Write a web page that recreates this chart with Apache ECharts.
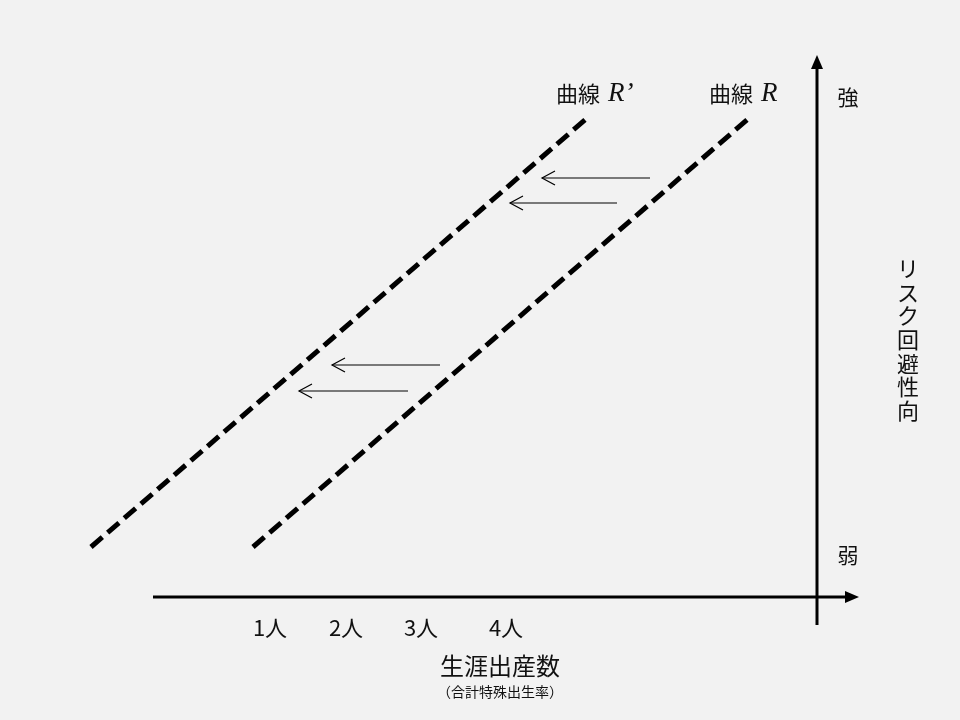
<!DOCTYPE html>
<html>
<head>
<meta charset="utf-8">
<script src="https://cdn.jsdelivr.net/npm/echarts@6/dist/echarts.min.js"></script>
<style>
  html, body { margin: 0; padding: 0; background: #f2f2f2; }
  #chart { width: 960px; height: 720px; }
</style>
</head>
<body>
<div id="chart"></div>
<script>
// diagram space: x 0..960 left→right, y 0..720 top→bottom
const curveR = [[253, 547], [748, 119]];
const curveRPrime = [[91, 547], [586, 119]];
// [startX, y, endX] for the leftward shift arrows
const shiftArrows = [[650, 178, 542], [617, 203, 510], [440, 365, 332], [408, 391, 299]];
const axisLines = [[[153, 597], [859, 597]], [[817, 625], [817, 55]]];
const birthTicks = ["1人", "2人", "3人", "4人"];
const birthTickX = [270, 346, 421, 506];
const tickRowY = 628;

const jp = '"Noto Sans CJK JP", "Noto Sans", sans-serif';
const chart = echarts.init(document.getElementById("chart"), null, { renderer: "canvas" });

function arrowAxis(params, api) {
  const a = api.coord([api.value(0), api.value(1)]);
  const b = api.coord([api.value(2), api.value(3)]);
  const dx = b[0] - a[0], dy = b[1] - a[1];
  const len = Math.hypot(dx, dy), ux = dx / len, uy = dy / len;
  const head = 14, half = 6;
  const base = [b[0] - ux * head, b[1] - uy * head];
  return {
    type: "group",
    children: [
      { type: "line", shape: { x1: a[0], y1: a[1], x2: base[0], y2: base[1] }, style: { stroke: "#000", lineWidth: 3 } },
      { type: "polygon", shape: { points: [b, [base[0] - uy * half, base[1] + ux * half], [base[0] + uy * half, base[1] - ux * half]] }, style: { fill: "#000" } },
    ],
  };
}

function openArrow(params, api) {
  const a = api.coord([api.value(0), api.value(1)]);
  const b = api.coord([api.value(2), api.value(1)]);
  return {
    type: "group",
    children: [
      { type: "line", shape: { x1: a[0], y1: a[1], x2: b[0], y2: b[1] }, style: { stroke: "#000", lineWidth: 1.2 } },
      { type: "polyline", shape: { points: [[b[0] + 13, b[1] - 7], b, [b[0] + 13, b[1] + 7]] }, style: { stroke: "#000", lineWidth: 1.2, fill: null } },
    ],
  };
}

const curveStyle = { color: "#000", width: 5, type: [15, 7], cap: "butt" };
const curveLabelRich = {
  a: { fontSize: 22, fontFamily: jp, fill: "#111" },
  gap: { width: 8 },
  r: { fontSize: 27, fontFamily: '"Liberation Serif", serif', fontStyle: "italic", fill: "#111" },
};

chart.setOption({
  backgroundColor: "#f2f2f2",
  animation: false,
  grid: { left: 0, right: 0, top: 0, bottom: 0 },
  xAxis: { type: "value", min: 0, max: 960, show: false },
  yAxis: { type: "value", min: 0, max: 720, inverse: true, show: false },
  series: [
    { type: "line", data: curveR, symbol: "none", lineStyle: curveStyle },
    { type: "line", data: curveRPrime, symbol: "none", lineStyle: curveStyle },
    {
      type: "custom",
      renderItem: openArrow,
      data: shiftArrows,
      encode: { x: [0, 2], y: 1 },
    },
    {
      type: "custom",
      renderItem: arrowAxis,
      data: axisLines.map(([p, q]) => [p[0], p[1], q[0], q[1]]),
      encode: { x: [0, 2], y: [1, 3] },
    },
    {
      type: "scatter",
      symbolSize: 0,
      itemStyle: { opacity: 1 },
      data: birthTicks.map((t, i) => ({ value: [birthTickX[i], tickRowY], name: t })),
      label: {
        show: true,
        position: "inside",
        formatter: (p) => p.name,
        color: "#111",
        opacity: 1,
        fontSize: 22,
        fontFamily: jp,
      },
    },
  ],
  graphic: [
    { type: "text", left: 556, top: 80, style: { text: "{a|曲線}{gap|}{r|R’}", rich: curveLabelRich } },
    { type: "text", left: 709, top: 80, style: { text: "{a|曲線}{gap|}{r|R}", rich: curveLabelRich } },
    { type: "text", x: 848, y: 97, style: { text: "強", fontSize: 21, fontFamily: jp, fill: "#111", align: "center", verticalAlign: "middle" } },
    { type: "text", x: 848, y: 555, style: { text: "弱", fontSize: 21, fontFamily: jp, fill: "#111", align: "center", verticalAlign: "middle" } },
    {
      type: "text", x: 908, y: 257,
      style: { text: "リ\nス\nク\n回\n避\n性\n向", fontSize: 22, lineHeight: 23.6, fontFamily: jp, fill: "#111", align: "center", verticalAlign: "top" },
    },
    { type: "text", x: 500, y: 666, style: { text: "生涯出産数", fontSize: 24, fontFamily: jp, fill: "#111", align: "center", verticalAlign: "middle" } },
    { type: "text", x: 500, y: 692, style: { text: "（合計特殊出生率）", fontSize: 14, fontFamily: jp, fill: "#111", align: "center", verticalAlign: "middle" } },
  ],
});
</script>
</body>
</html>
